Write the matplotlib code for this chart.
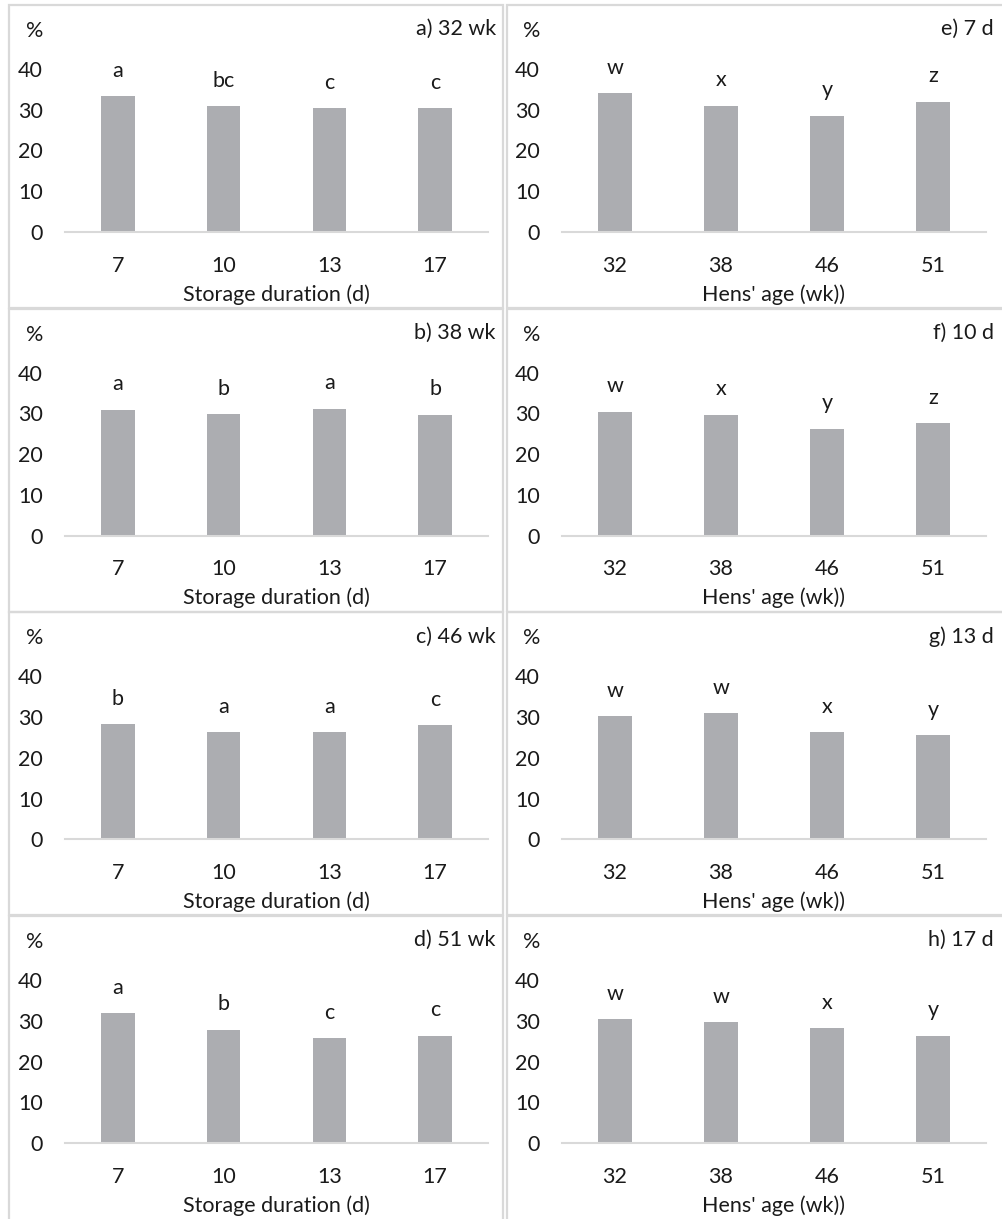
import matplotlib
matplotlib.use("Agg")
import matplotlib.pyplot as plt
from matplotlib.patches import Rectangle

plt.rcParams['font.family'] = ['Lato', 'DejaVu Sans']

# data
storage_days = ['7', '10', '13', '17']
hens_age = ['32', '38', '46', '51']

age32 = [33.3, 30.8, 30.4, 30.4]
age38 = [30.9, 29.8, 31.2, 29.7]
age46 = [28.2, 26.3, 26.3, 28.0]
age51 = [31.9, 27.8, 25.7, 26.3]
letters_age32 = ['a', 'bc', 'c', 'c']
letters_age38 = ['a', 'b', 'a', 'b']
letters_age46 = ['b', 'a', 'a', 'c']
letters_age51 = ['a', 'b', 'c', 'c']

day7 = [34.1, 31.0, 28.5, 32.0]
day10 = [30.4, 29.7, 26.2, 27.6]
day13 = [30.2, 31.0, 26.3, 25.6]
day17 = [30.4, 29.7, 28.2, 26.3]
letters_day7 = ['w', 'x', 'y', 'z']
letters_day10 = ['w', 'x', 'y', 'z']
letters_day13 = ['w', 'w', 'x', 'y']
letters_day17 = ['w', 'w', 'x', 'y']

left_titles = ['a) 32 wk', 'b) 38 wk', 'c) 46 wk', 'd) 51 wk']
right_titles = ['e) 7 d', 'f) 10 d', 'g) 13 d', 'h) 17 d']

W, H = 1003, 1219
fig = plt.figure(figsize=(W / 100, H / 100), dpi=100)

bar_col = '#acadb1'
grid_col = '#d9d9d9'
txt_col = '#1a1a1a'
fs = 15.5


def add_ax(x0, ytop, x1, ybot):
    return fig.add_axes([x0 / W, 1 - ybot / H, (x1 - x0) / W, (ybot - ytop) / H])


def panel(x0, x1, rtop, cats, vals, letters, title, xlabel, fx0, fx1, fh):
    # frame around the panel
    fig.patches.append(Rectangle((fx0 / W, 1 - (rtop + fh) / H), (fx1 - fx0) / W, (fh - 1) / H,
                                 transform=fig.transFigure, fill=False,
                                 edgecolor=grid_col, lw=1.6))
    ax = add_ax(x0, rtop + 65, x1, rtop + 228)
    x = range(len(cats))
    ax.bar(x, vals, width=0.315, color=bar_col, zorder=2)
    for i, (v, t) in enumerate(zip(vals, letters)):
        ax.annotate(t, (i, v), xytext=(0, 14), textcoords='offset points',
                    ha='center', va='baseline', fontsize=fs, color=txt_col)
    ax.set_xlim(-0.5, len(cats) - 0.5)
    ax.set_ylim(0, 40)
    ax.set_yticks([0, 10, 20, 30, 40])
    ax.set_xticks(list(x))
    ax.set_xticklabels(cats)
    ax.tick_params(length=0, labelsize=fs, labelcolor=txt_col)
    ax.tick_params(axis='y', pad=16)
    ax.tick_params(axis='x', pad=17)
    for s in ['top', 'right', 'left']:
        ax.spines[s].set_visible(False)
    ax.spines['bottom'].set_color(grid_col)
    ax.spines['bottom'].set_linewidth(1.5)
    ax.set_xlabel(xlabel, fontsize=fs, color=txt_col, labelpad=6)
    fig.text((x0 - 30) / W, 1 - (rtop + 27) / H, '%', ha='center', va='center',
             fontsize=fs, color=txt_col)
    fig.text((x1 + 8) / W, 1 - (rtop + 25) / H, title, ha='right', va='center',
             fontsize=fs, color=txt_col)
    return ax


left_vals = [age32, age38, age46, age51]
left_letters = [letters_age32, letters_age38, letters_age46, letters_age51]
right_vals = [day7, day10, day13, day17]
right_letters = [letters_day7, letters_day10, letters_day13, letters_day17]

for r in range(4):
    rtop = 4 + 303.7 * r
    fh = 304 if r < 3 else 330
    panel(65, 488, rtop, storage_days, left_vals[r], left_letters[r],
          left_titles[r], 'Storage duration (d)', 9, 503, fh)
    panel(562, 986, rtop, hens_age, right_vals[r], right_letters[r],
          right_titles[r], "Hens' age (wk))", 507, 1010, fh)

fig.savefig('out.png', dpi=100)
